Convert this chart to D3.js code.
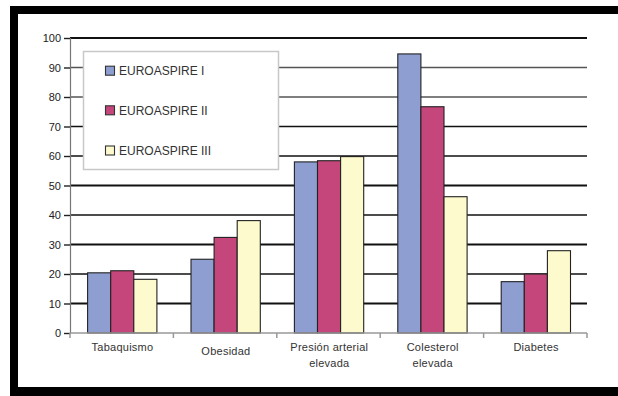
<!DOCTYPE html>
<html><head><meta charset="utf-8">
<script src="https://cdn.jsdelivr.net/npm/d3@7"></script>
<style>html,body{margin:0;padding:0;background:#fff;}svg{display:block;}</style>
</head><body>
<svg id="c" width="618" height="396"></svg>
<script>
const categories = [["Tabaquismo"], ["Obesidad"], ["Presión arterial", "elevada"], ["Colesterol", "elevada"], ["Diabetes"]];
const seriesNames = ["EUROASPIRE I", "EUROASPIRE II", "EUROASPIRE III"];
const euroI   = [20.4, 25.0, 58.0, 94.6, 17.4];
const euroII  = [21.1, 32.4, 58.4, 76.7, 20.0];
const euroIII = [18.2, 38.1, 59.8, 46.2, 27.9];
const yTicks = [0, 10, 20, 30, 40, 50, 60, 70, 80, 90, 100];
const colors = ["#8f9ed0", "#c4467a", "#fdfacd"];

const svg = d3.select("#c");
const font = "'Liberation Sans', Arial, sans-serif";
const L = 70, R = 587, T = 38, B = 333;

// frame
svg.append("rect").attr("x", 10).attr("y", 6).attr("width", 608).attr("height", 8).attr("fill", "#000");
svg.append("rect").attr("x", 10).attr("y", 6).attr("width", 8).attr("height", 390).attr("fill", "#000");
svg.append("rect").attr("x", 10).attr("y", 387).attr("width", 608).attr("height", 9).attr("fill", "#000");

const catKeys = categories.map(c => c.join(" "));
const x0 = d3.scaleBand().domain(catKeys).range([L, R]);
const x1 = d3.scaleBand().domain(seriesNames).range([17.6, 17.6 + 69.3]);
const y = d3.scaleLinear().domain([0, 100]).range([B, T]);

// gridlines
const thick = new Set([100, 50, 30, 10]);
svg.append("g").selectAll("line").data(yTicks.filter(t => t > 0)).join("line")
  .attr("x1", L).attr("x2", R)
  .attr("y1", d => y(d)).attr("y2", d => y(d))
  .attr("stroke", d => (d === 90 || d === 80) ? "#555" : "#111")
  .attr("stroke-width", d => thick.has(d) ? 2 : 1.4);

// y axis
const yAxis = d3.axisLeft(y).tickValues(yTicks).tickSize(6).tickPadding(3);
const gy = svg.append("g").attr("transform", `translate(${L},0)`).call(yAxis);
gy.select(".domain").attr("stroke", "#777").attr("stroke-width", 1.2);
gy.selectAll(".tick line").attr("stroke", "#222").attr("stroke-width", 1.4);
gy.selectAll("text").attr("font-family", font).attr("font-size", 11).attr("fill", "#222");

// bars
const series = [euroI, euroII, euroIII];
const g = svg.append("g");
catKeys.forEach((k, i) => {
  seriesNames.forEach((s, j) => {
    g.append("rect")
      .attr("x", x0(k) + x1(s)).attr("width", x1.bandwidth())
      .attr("y", y(series[j][i])).attr("height", y(0) - y(series[j][i]))
      .attr("fill", colors[j]).attr("stroke", "#222").attr("stroke-width", 1.1);
  });
});

// x axis
svg.append("line").attr("x1", L).attr("x2", R).attr("y1", B).attr("y2", B)
  .attr("stroke", "#999").attr("stroke-width", 1.5);
const bounds = catKeys.map(k => x0(k)).concat([R]);
svg.append("g").selectAll("line").data(bounds).join("line")
  .attr("x1", d => d).attr("x2", d => d).attr("y1", B).attr("y2", B + 5)
  .attr("stroke", "#999").attr("stroke-width", 1.5);

const labelDy = [0, 4, 0, 0, 0];
categories.forEach((lines, i) => {
  const cx = x0(catKeys[i]) + x0.bandwidth() / 2 + 0.8;
  lines.forEach((ln, li) => {
    svg.append("text").attr("x", cx).attr("y", 351 + labelDy[i] + li * 16)
      .attr("text-anchor", "middle").attr("font-family", font).attr("font-size", 11)
      .attr("letter-spacing", 0.25)
      .attr("fill", "#333").text(ln);
  });
});

// legend
svg.append("rect").attr("x", 83.5).attr("y", 51.5).attr("width", 195).attr("height", 118)
  .attr("fill", "#fff").attr("stroke", "#c8c8c8").attr("stroke-width", 1.5);
const legY = [70.7, 110.3, 150.5];
seriesNames.forEach((s, j) => {
  svg.append("rect").attr("x", 105.5).attr("y", legY[j] - 4.5).attr("width", 9).attr("height", 9)
    .attr("fill", colors[j]).attr("stroke", "#333").attr("stroke-width", 1.1);
  svg.append("text").attr("x", 119).attr("y", legY[j] + 4.3)
    .attr("font-family", font).attr("font-size", 12).attr("fill", "#333").text(s);
});
</script>
</body></html>
